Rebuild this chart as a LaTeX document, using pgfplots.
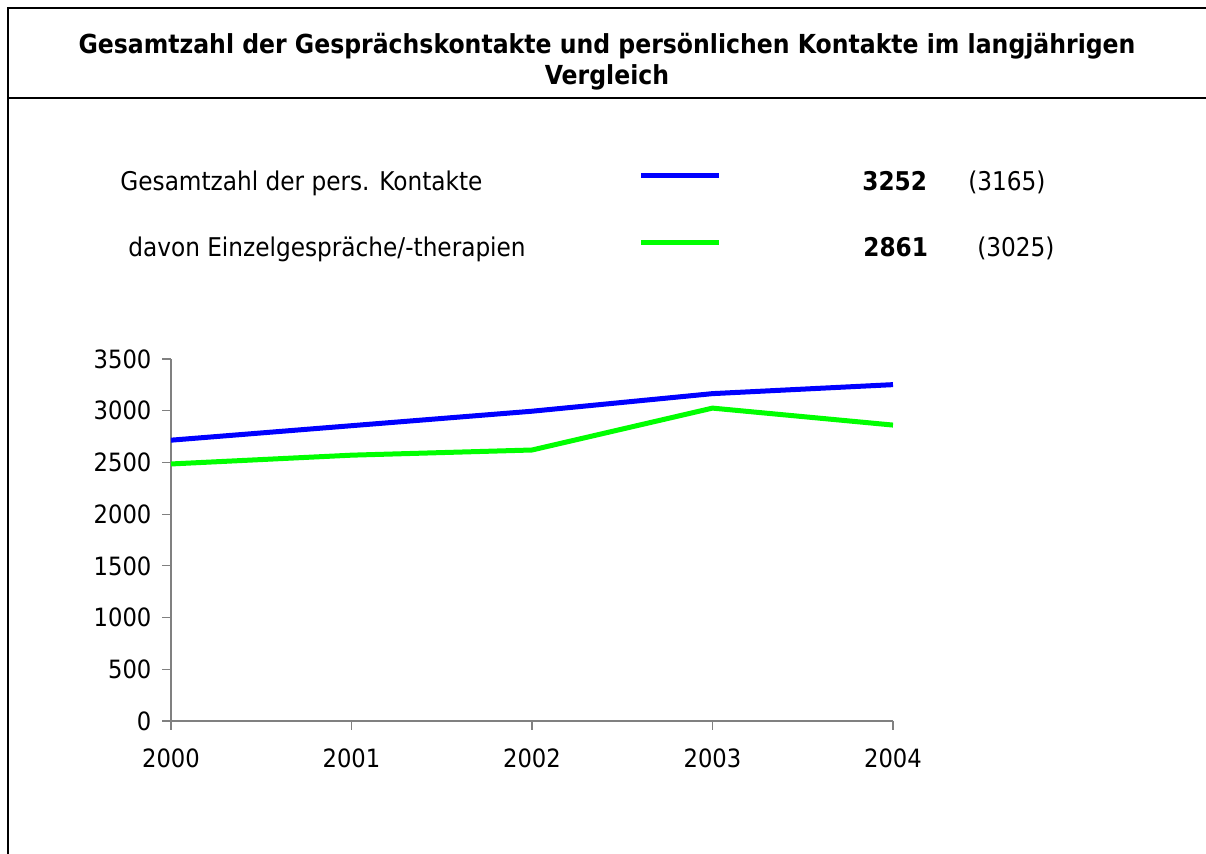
\documentclass[border=0pt,11pt]{standalone}
\usepackage{fontspec}
\setmainfont{DejaVu Sans Condensed}
\usepackage{pgfplots}
\pgfplotsset{compat=1.18}
\definecolor{serblue}{HTML}{0000FF}
\definecolor{sergreen}{HTML}{00FF00}
\definecolor{axgray}{HTML}{808080}

\begin{document}
\begin{tikzpicture}
  \begin{scope}[x=0.5pt,y=0.5pt]
  \path[use as bounding box] (0,0) rectangle (1206,854);
  % frame round the title
  \draw[line width=1.3pt] (8,0) -- (8,846) -- (1206,846);
  \draw[line width=1.1pt] (8,756) -- (1206,756);
  \node[font=\fontsize{13.1}{15.5}\selectfont\bfseries, align=center] at (607,792)
    {Gesamtzahl der Gesprächskontakte und persönlichen Kontakte im langjährigen\\Vergleich};

  % key above the plot
  \node[font=\fontsize{12.9}{15}\selectfont, anchor=base west, inner sep=0pt] at (120,663.5) {Gesamtzahl der pers. Kontakte};
  \node[font=\fontsize{12.9}{15}\selectfont, anchor=base west, inner sep=0pt] at (128,597) {davon Einzelgespräche/-therapien};
  \draw[serblue, line width=2.5pt] (641,678.3) -- (719,678.3);
  \draw[sergreen, line width=2.5pt] (641,611.3) -- (719,611.3);
  \node[font=\fontsize{12.9}{15}\selectfont\bfseries, anchor=base west, inner sep=0pt] at (862,663.5) {3252};
  \node[font=\fontsize{12.9}{15}\selectfont, anchor=base west, inner sep=0pt] at (968,663.5) {(3165)};
  \node[font=\fontsize{12.9}{15}\selectfont\bfseries, anchor=base west, inner sep=0pt] at (863,597) {2861};
  \node[font=\fontsize{12.9}{15}\selectfont, anchor=base west, inner sep=0pt] at (977,597) {(3025)};
  \end{scope}

  \begin{axis}[
    at={(85.5pt,66.5pt)}, anchor=origin,
    scale only axis,
    width=361pt, height=181pt,
    xmin=2000, xmax=2004,
    ymin=0, ymax=3500,
    xtick={2000,2001,2002,2003,2004},
    ytick={0,500,...,3500},
    axis lines=left,
    axis line style={draw=axgray, line width=0.75pt, -},
    tick style={draw=axgray, line width=0.6pt},
    tick align=outside,
    major tick length=4.5pt,
    xticklabel style={yshift=-5.5pt},
    yticklabel style={xshift=-1.5pt},
    /pgf/number format/assume math mode=true,
    x tick label style={/pgf/number format/1000 sep={}},
    y tick label style={/pgf/number format/1000 sep={}},
    ticklabel style={font=\fontsize{12.6}{15}\selectfont},
    clip=false,
    ]
    % Gesamtzahl der pers. Kontakte
    \addplot[serblue, line width=2.5pt] coordinates {
      (2000,2715) (2001,2855) (2002,2995) (2003,3165) (2004,3252)
    };
    % davon Einzelgespraeche/-therapien
    \addplot[sergreen, line width=2.5pt] coordinates {
      (2000,2485) (2001,2570) (2002,2620) (2003,3025) (2004,2861)
    };
  \end{axis}
\end{tikzpicture}
\end{document}
